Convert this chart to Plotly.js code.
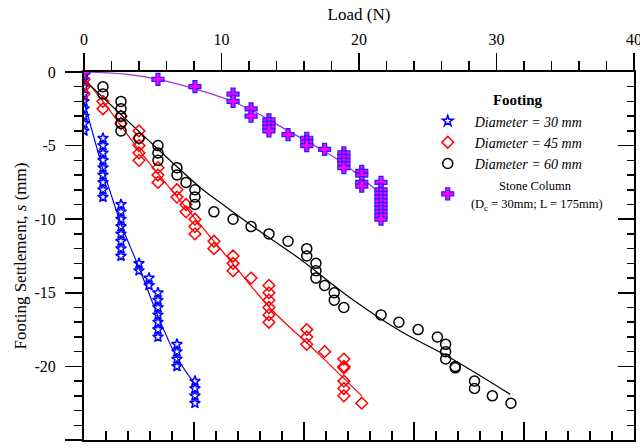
<!DOCTYPE html>
<html>
<head>
<meta charset="utf-8">
<script src="https://cdn.plot.ly/plotly-3.0.1.min.js"></script>
<style>html,body{margin:0;padding:0;background:#fff;}#chart{width:640px;height:448px;}</style>
</head>
<body>
<div id="chart"></div>
<script>
// ---- Data ----
// Diameter = 30 mm (load N, settlement mm)
const d30Load = [0,0,0,0,0,0,0,0,0, 1.38,1.38,1.38,1.38,1.38,1.38,1.38,1.38,1.38, 2.69,2.69,2.69,2.69,2.69,2.69,2.69,2.69, 4.0,4.0, 4.73,4.73, 5.38,5.38,5.38,5.38,5.38,5.38,5.38, 6.76,6.76,6.76,6.76, 8.07,8.07,8.07,8.07];
const d30Settle = [0,-0.5,-1,-1.5,-2,-2.5,-3,-3.5,-4, -4.5,-5,-5.5,-6,-6.5,-7,-7.5,-8,-8.5, -9,-9.5,-10,-10.5,-11,-11.5,-12,-12.5, -13,-13.5, -14,-14.5, -15,-15.5,-16,-16.5,-17,-17.5,-18, -18.5,-19,-19.5,-20, -21,-21.5,-22,-22.5];
const fit30Load = [0, 1.38, 2.1, 2.76, 4.07, 5.3, 6.76, 8.07];
const fit30Settle = [-2.0, -6.6, -8.7, -10.5, -13.45, -16.4, -19.4, -21.2];

// Diameter = 45 mm
const d45Load = [0,0,0,0, 1.38,1.38, 2.69,2.69, 4.0,4.0,4.0,4.0,4.0, 5.38,5.38,5.38, 6.76,6.76, 7.42,7.42, 8.07,8.07,8.07, 9.45,9.45, 10.84,10.84,10.84, 12.15, 13.45,13.45,13.45,13.45,13.45,13.45, 16.2,16.2,16.2, 17.5, 18.9,18.9,18.9,18.9,18.9,18.9, 20.2];
const d45Settle = [0,-0.5,-1,-1.5, -2,-2.5, -3,-3.5, -4,-4.5,-5,-5.5,-6, -6.5,-7,-7.5, -8,-8.5, -9,-9.5, -10,-10.5,-11, -11.5,-12, -12.5,-13,-13.5, -14, -14.5,-15,-15.5,-16,-16.5,-17, -17.5,-18,-18.5, -19, -19.5,-20,-20.1,-21,-21.5,-22, -22.5];
const fit45Load = [0, 1.3, 4.0, 7.5, 10.8, 13.6, 17.0, 20.2];
const fit45Settle = [-0.4, -1.9, -5.3, -9.3, -13.0, -16.1, -19.1, -22.0];

// Diameter = 60 mm
const d60Load = [0, 1.38,1.38, 2.69,2.69,2.69,2.69,2.69, 4.0, 5.38,5.38,5.38, 6.76,6.76, 7.42, 8.07,8.07,8.07, 9.45, 10.84, 12.15, 13.45, 14.84, 16.2,16.2, 16.87,16.87,16.87, 17.5, 18.2,18.2, 18.9, 21.6, 22.9, 24.3, 25.7, 26.3,26.3,26.3, 27.0,27.0, 28.4,28.4, 29.7, 31.05];
const d60Settle = [0, -1,-1.5, -2,-2.5,-3,-3.5,-4, -4.5, -5,-5.5,-6, -6.5,-7, -7.5, -8,-8.5,-9, -9.5, -10, -10.5, -11, -11.5, -12,-12.5, -13,-13.5,-14, -14.5, -15,-15.5, -16, -16.5, -17, -17.5, -18, -18.5,-19,-19.5, -20,-20.1, -21,-21.5, -22, -22.5];
const fit60Load = [0, 4.07, 8.65, 10.1, 12.3, 15.7, 19.3, 23.0, 26.4, 31.0];
const fit60Settle = [-0.5, -4.1, -8.0, -9.0, -10.5, -12.7, -15.3, -17.6, -19.3, -21.9];

// Stone Column (Dc = 30mm; L = 175mm)
const scLoad = [0, 5.38, 8.07, 10.84,10.84, 12.15,12.15, 13.45,13.45,13.45,13.45, 14.84, 16.2,16.2,16.2, 17.5, 18.9,18.9,18.9,18.9,18.9, 20.2,20.2,20.2,20.2, 21.6,21.6,21.6,21.6,21.6,21.6,21.6,21.6,21.6,21.6];
const scSettle = [0, -0.5, -1, -1.5,-2, -2.5,-3, -3.25,-3.5,-3.75,-4, -4.25, -4.5,-4.75,-5, -5.25, -5.5,-5.75,-6,-6.25,-6.5, -6.75,-7,-7.5,-7.75, -7.5,-8,-8.25,-8.5,-8.75,-9,-9.25,-9.5,-9.75,-10];
const fitSCLoad = [0, 3, 5.38, 8.07, 10.8, 12.2, 14.85, 17.5, 18.85, 20.2, 21.6];
const fitSCSettle = [0, -0.15, -0.5, -1.15, -2.0, -2.6, -4.0, -5.4, -6.2, -7.2, -8.3];

const NB = '\u00A0\u00A0';
const seriesNames = [NB + 'Diameter = 30 mm', NB + 'Diameter = 45 mm', NB + 'Diameter = 60 mm',
  '<span style="font-size:12.5px;font-style:normal">\u00A0\u00A0\u00A0\u00A0\u00A0\u00A0\u00A0\u00A0\u00A0\u00A0Stone Column<br>\u00A0(D<sub>c</sub> = 30mm; L = 175mm)</span>'];
const yTickVals = [0, -5, -10, -15, -20, -25];
const yTickText = ['0', '-5', '-10', '-15', '-20', '-25'];
const xTickVals = [0, 10, 20, 30, 40];
const xTickText = ['0', '10', '20', '30', '40'];

const serif = 'Liberation Serif, Times New Roman, serif';

function fit(x, y, color) {
  return {x: x, y: y, mode: 'lines', line: {color: color, width: 1.2, shape: 'spline'},
          showlegend: false, hoverinfo: 'skip', type: 'scatter'};
}

const traces = [
  fit(fit30Load, fit30Settle, '#0000ff'),
  fit(fit45Load, fit45Settle, '#ff0000'),
  fit(fit60Load, fit60Settle, '#000000'),
  fit(fitSCLoad, fitSCSettle, '#a030e0'),
  {x: d30Load, y: d30Settle, name: seriesNames[0], mode: 'markers', type: 'scatter',
   marker: {symbol: 'star-open', size: 8, color: '#0000ff', line: {width: 1.5, color: '#0000ff'}}},
  {x: d45Load, y: d45Settle, name: seriesNames[1], mode: 'markers', type: 'scatter',
   marker: {symbol: 'diamond-open', size: 9, color: '#ff0000', line: {width: 1.5, color: '#ff0000'}}},
  {x: d60Load, y: d60Settle, name: seriesNames[2], mode: 'markers', type: 'scatter',
   marker: {symbol: 'circle-open', size: 10, color: '#000000', line: {width: 1.5, color: '#000000'}}},
  {x: scLoad, y: scSettle, name: seriesNames[3], mode: 'markers', type: 'scatter',
   marker: {symbol: 'cross', size: 10, color: '#ff00ff', line: {width: 1.2, color: '#2020ff'}}},
  {x: [], y: [], xaxis: 'x2', yaxis: 'y2', showlegend: false, type: 'scatter', mode: 'markers'}
];

const layout = {
  width: 640, height: 448,
  margin: {l: 84, r: 6, t: 72, b: 8},
  paper_bgcolor: '#fff', plot_bgcolor: '#fff',
  font: {family: serif, color: '#000', size: 16},
  showlegend: true,
  legend: {
    x: 0.625, y: 0.962, xanchor: 'left', yanchor: 'top',
    bgcolor: 'rgba(0,0,0,0)', borderwidth: 0,
    font: {family: serif, size: 14, style: 'italic', color: '#000'},
    title: {text: '<b>Footing</b>', side: 'top center', font: {family: serif, size: 15, style: 'normal', color: '#000'}},
    tracegroupgap: 0
  },
  xaxis: {
    side: 'top', range: [0, 40], tickmode: 'array', tickvals: xTickVals, ticktext: xTickText,
    ticklabeloverflow: 'allow',
    ticks: 'outside', ticklen: 17, tickwidth: 1.5, tickcolor: '#000',
    minor: {tickmode: 'linear', tick0: 0, dtick: 2, ticks: 'outside', ticklen: 9, tickwidth: 1.5, tickcolor: '#000'},
    showline: true, linecolor: '#000', linewidth: 2, showgrid: false, zeroline: false,
    tickfont: {family: serif, size: 16}, ticklabelstandoff: 2,
    title: {text: 'Load (N)', font: {family: serif, size: 17}, standoff: 6}
  },
  xaxis2: {
    overlaying: 'x', anchor: 'y2', side: 'bottom', range: [0, 50], dtick: 10, tick0: 0,
    ticks: 'inside', ticklen: 18, tickwidth: 1.5, tickcolor: '#000',
    minor: {dtick: 2, ticks: 'inside', ticklen: 9, tickwidth: 1.5, tickcolor: '#000'},
    showticklabels: false, showline: true, linecolor: '#000', linewidth: 2, showgrid: false, zeroline: false
  },
  yaxis: {
    range: [-25, 0], tickvals: yTickVals, ticktext: yTickText,
    ticks: 'outside', ticklen: 17, tickwidth: 1.5, tickcolor: '#000',
    minor: {tickmode: 'linear', tick0: 0, dtick: 1, ticks: 'outside', ticklen: 8, tickwidth: 1.5, tickcolor: '#000'},
    showline: true, linecolor: '#000', linewidth: 2, showgrid: false, zeroline: false,
    tickfont: {family: serif, size: 16}, ticklabelstandoff: 6,
    title: {text: 'Footing Settlement, <i>s</i> (mm)', font: {family: serif, size: 17}, standoff: 4}
  },
  yaxis2: {
    overlaying: 'y', anchor: 'x2', side: 'right', range: [-25, 0], dtick: 5, tick0: 0,
    ticks: 'inside', ticklen: 16, tickwidth: 1.5, tickcolor: '#000',
    minor: {dtick: 1, ticks: 'inside', ticklen: 7, tickwidth: 1.5, tickcolor: '#000'},
    showticklabels: false, showline: true, linecolor: '#000', linewidth: 2, showgrid: false, zeroline: false
  }
};

Plotly.newPlot('chart', traces, layout, {displayModeBar: false, staticPlot: true});
</script>
</body>
</html>
